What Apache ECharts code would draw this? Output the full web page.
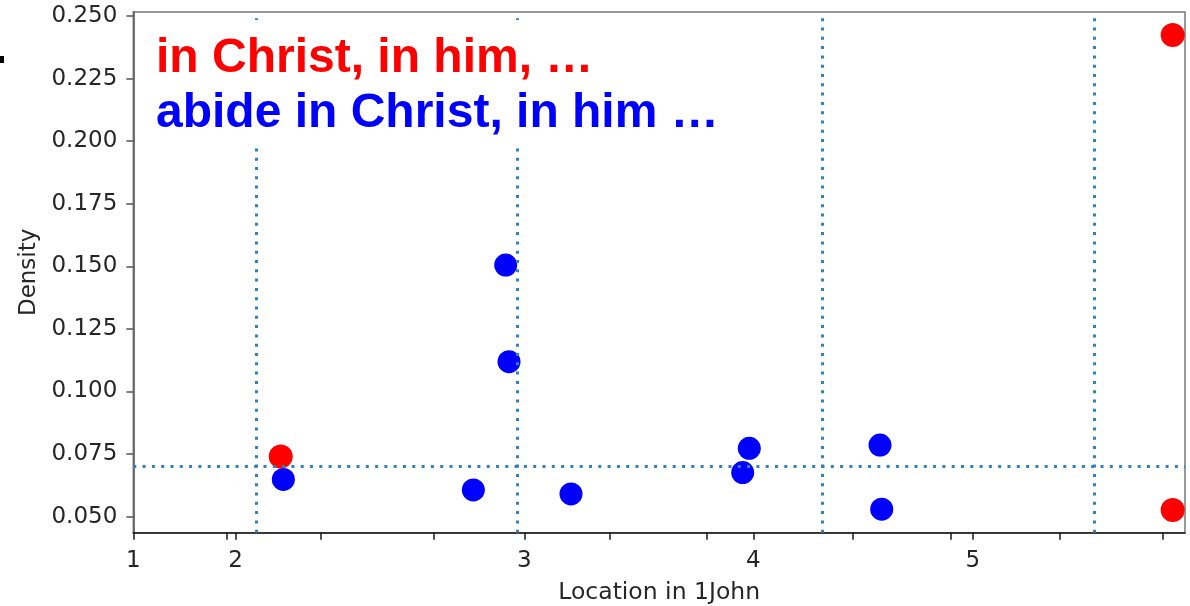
<!DOCTYPE html>
<html>
<head>
<meta charset="utf-8">
<script src="https://cdn.jsdelivr.net/npm/echarts@6/dist/echarts.min.js"></script>
<style>
html,body{margin:0;padding:0;background:#fff;}
#chart{width:1190px;height:606px;}
</style>
</head>
<body>
<div id="chart"></div>
<script>
// Location units: approximate verse position within 1 John (0 .. 105)
const chapterTicks = [0, 10.22, 39.04, 61.90, 83.81];
const chapterLabels = ['1', '2', '3', '4', '5'];
const minorTicks = [9.33, 18.71, 29.95, 47.52, 57.25, 71.79, 81.61, 92.45, 102.77];
const yTicks = [0.05, 0.075, 0.1, 0.125, 0.15, 0.175, 0.2, 0.225, 0.25];

// "in Christ, in him, ..." (red)
const redX = [14.72, 103.77, 103.77];
const redY = [0.0740, 0.2424, 0.0527];
// "abide in Christ, in him ..." (blue)
const blueX = [14.98, 33.95, 37.18, 37.51, 43.70, 60.84, 61.50, 74.55, 74.72];
const blueY = [0.0649, 0.0607, 0.1505, 0.1119, 0.0591, 0.0676, 0.0773, 0.0786, 0.0530];

// dotted reference lines
const vLines = [12.25, 38.38, 68.79, 95.92];
const hLines = [0.0709];

const redLabel = 'in Christ, in him, …';
const blueLabel = 'abide in Christ, in him …';

const chart = echarts.init(document.getElementById('chart'), null, {renderer: 'canvas'});

const zip = (xs, ys) => xs.map((x, i) => [x, ys[i]]);
const dotStyle = {color: '#2f82c0', width: 3, type: [3, 6.3], cap: 'butt', opacity: 1};

const option = {
  animation: false,
  backgroundColor: '#ffffff',
  grid: {
    left: 133.3, right: 5, top: 12, bottom: 73.3,
    containLabel: false, outerBoundsMode: 'none',
    show: true, borderColor: '#777', borderWidth: 1.5, backgroundColor: 'transparent'
  },
  xAxis: {
    type: 'value', min: 0, max: 105,
    name: 'Location in 1John', nameLocation: 'middle', nameGap: 48,
    nameTextStyle: {fontFamily: 'DejaVu Sans', fontSize: 23.5, color: '#262626'},
    axisLine: {show: true, onZero: false, lineStyle: {color: '#1a1a1a', width: 1.6}},
    axisTick: {show: true, length: 7, customValues: chapterTicks.concat(minorTicks), lineStyle: {color: '#1a1a1a', width: 1.5}},
    axisLabel: {
      customValues: chapterTicks, margin: 17,
      fontFamily: 'DejaVu Sans', fontSize: 23, color: '#262626',
      formatter: function (v) {
        let best = 0, d = Infinity;
        chapterTicks.forEach((t, i) => { if (Math.abs(t - v) < d) { d = Math.abs(t - v); best = i; } });
        return chapterLabels[best];
      }
    },
    splitLine: {show: false}
  },
  yAxis: {
    type: 'value', min: 0.0436, max: 0.2516,
    name: 'Density', nameLocation: 'middle', nameGap: 93, nameRotate: 90,
    nameTextStyle: {fontFamily: 'DejaVu Sans', fontSize: 23, color: '#262626'},
    axisLine: {show: true, onZero: false, lineStyle: {color: '#666', width: 1.8}},
    axisTick: {show: true, length: 7, customValues: yTicks, lineStyle: {color: '#555', width: 1.5}},
    axisLabel: {
      customValues: yTicks, margin: 16,
      fontFamily: 'DejaVu Sans', fontSize: 23, color: '#262626',
      formatter: v => v.toFixed(3)
    },
    splitLine: {show: false}
  },
  graphic: [
    {type: 'rect', z: 100, shape: {x: 150, y: 20, width: 575, height: 124}, style: {fill: '#ffffff'}},
    {type: 'text', z: 101, style: {x: 156, y: 59, text: redLabel, fill: '#ff0000',
      font: 'bold 48px "Liberation Sans", Arial, sans-serif', verticalAlign: 'middle', align: 'left'}},
    {type: 'text', z: 101, style: {x: 156, y: 113.5, text: blueLabel, fill: '#0000ff',
      font: 'bold 48px "Liberation Sans", Arial, sans-serif', verticalAlign: 'middle', align: 'left'}},
    {type: 'rect', z: 100, shape: {x: 0, y: 56, width: 4, height: 7}, style: {fill: '#000000'}}
  ],
  series: [
    {
      type: 'line', data: [], z: 1, silent: true,
      markLine: {
        silent: true, symbol: ['none', 'none'], label: {show: false}, animation: false,
        lineStyle: dotStyle,
        emphasis: {disabled: true},
        data: vLines.map(v => ({xAxis: v})).concat(hLines.map(v => ({yAxis: v})))
      }
    },
    {
      name: blueLabel, type: 'scatter', z: 3, symbolSize: 23,
      itemStyle: {color: '#0000ff', opacity: 1},
      data: zip(blueX, blueY)
    },
    {
      name: redLabel, type: 'scatter', z: 4, symbolSize: 24,
      itemStyle: {color: '#ff0000', opacity: 1},
      data: zip(redX, redY)
    }
  ]
};
chart.setOption(option);
</script>
</body>
</html>
